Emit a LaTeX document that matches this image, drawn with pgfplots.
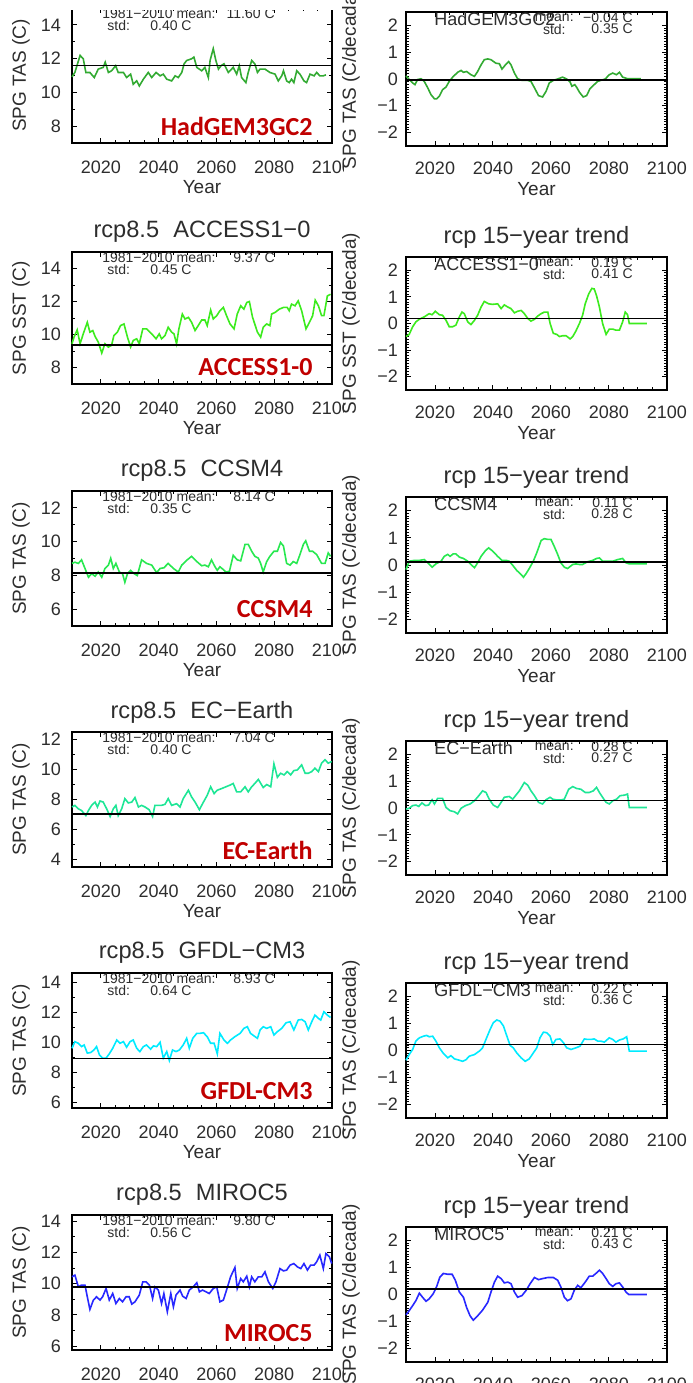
\documentclass[border=0pt]{standalone}
\usepackage{fontspec}
\setmainfont{Liberation Sans}
\newfontfamily\redfont{Carlito}
\usepackage{pgfplots}
\pgfplotsset{compat=1.18}

\definecolor{txt}{RGB}{45,45,45}
\definecolor{modelred}{RGB}{192,0,0}
\definecolor{hadcol}{RGB}{50,170,50}
\definecolor{acccol}{RGB}{60,235,30}
\definecolor{ccsmcol}{RGB}{40,232,80}
\definecolor{eccol}{RGB}{30,230,150}
\definecolor{gfdlcol}{RGB}{0,235,255}
\definecolor{mirocol}{RGB}{40,40,255}

\pgfplotsset{
  idl/.style={scale only axis, clip=false, xmin=2010, xmax=2100,
    xtick={2020,2040,...,2100}, minor x tick num=3,
    tick align=inside, major tick length=2.5pt, minor tick length=1.3pt,
    axis line style={line width=0.8pt}, tick style={line width=0.5pt, black},
    tick label style={font=\fontsize{9}{9}\selectfont, text=txt},
    /pgf/number format/1000 sep={}, /pgf/number format/assume math mode=true},
  leftpanel/.style={idl, width=130pt, height=67.5pt, ytick distance=2, minor y tick num=1,
    xticklabel style={yshift=-5.5pt}, yticklabel style={xshift=-2pt}},
  rightpanel/.style={idl, width=130.5pt, height=67pt, ymin=-2.5, ymax=2.5,
    ytick={-2,...,2}, yticklabels={−2,−1,0,1,2}, minor y tick num=9,
    xticklabel style={yshift=-4.5pt}, yticklabel style={xshift=-0.5pt}},
  series/.style={#1, line width=0.8pt},
}
\tikzset{lbl/.style={inner sep=0pt, text=txt},
  small/.style={lbl, font=\fontsize{7}{7}\selectfont}}

% title, ylabel, mean, std, model label
\newcommand{\leftdecor}[5]{%
  \addplot[black, line width=0.8pt] coordinates {(2010,#3) (2100,#3)};
  \node[lbl, font=\fontsize{11.8}{12}\selectfont] at ([yshift=10pt]rel axis cs:0.5,1) {#1};
  \node[lbl, rotate=90, font=\fontsize{9.5}{10}\selectfont] at ([xshift=-25.5pt]rel axis cs:0,0.5) {#2};
  \node[lbl, font=\fontsize{9.5}{10}\selectfont] at ([yshift=-22pt]rel axis cs:0.5,0) {Year};
  \node[small, anchor=west] at ([yshift=-3pt]rel axis cs:0.115,1) {1981−2010 mean:};
  \node[small, anchor=east] at ([yshift=-3pt]rel axis cs:0.781,1) {#3 C};
  \node[small, anchor=west] at ([yshift=-8.8pt]rel axis cs:0.135,1) {std:};
  \node[small, anchor=east] at ([yshift=-8.8pt]rel axis cs:0.4615,1) {#4 C};
  \node[inner sep=0pt, anchor=east, text=modelred, font=\redfont\bfseries\fontsize{13}{13}\selectfont]
    at ([yshift=8.5pt]rel axis cs:0.927,0) {#5};
}
% title, ylabel, model, mean (number), mean (as printed), std
\newcommand{\rightdecor}[6]{%
  \addplot[black, line width=0.8pt] coordinates {(2010,#4) (2100,#4)};
  \node[lbl, font=\fontsize{11.8}{12}\selectfont] at ([yshift=10pt]rel axis cs:0.5,1) {#1};
  \node[lbl, rotate=90, font=\fontsize{9.5}{10}\selectfont] at ([xshift=-27.5pt]rel axis cs:0,0.5) {#2};
  \node[lbl, font=\fontsize{9.5}{10}\selectfont] at ([yshift=-21.5pt]rel axis cs:0.5,0) {Year};
  \node[lbl, anchor=west, font=\fontsize{9}{9}\selectfont] at ([yshift=-3.5pt]rel axis cs:0.107,1) {#3};
  \node[small, anchor=east] at ([yshift=-3pt]rel axis cs:0.644,1) {mean:};
  \node[small, anchor=east] at ([yshift=-3pt]rel axis cs:0.870,1) {#5 C};
  \node[small, anchor=east] at ([yshift=-8.5pt]rel axis cs:0.613,1) {std:};
  \node[small, anchor=east] at ([yshift=-8.5pt]rel axis cs:0.870,1) {#6 C};
}

\begin{document}
\begin{tikzpicture}

%% ---------- left column: annual series ----------
\begin{axis}[leftpanel, at={(36pt,-71.5pt)}, anchor=south west, ymin=7, ymax=15]
\addplot[series=hadcol] coordinates {(2010.0,10.92)(2011.0,11.18)(2012.8,12.19)(2013.9,11.99)(2014.8,11.18)(2016.2,11.18)(2017.7,10.88)(2019.1,11.38)(2020.8,11.48)(2021.5,11.79)(2022.6,11.18)(2023.7,11.28)(2025.1,11.58)(2026.0,11.18)(2027.8,11.18)(2028.9,10.88)(2030.3,11.08)(2031.2,10.48)(2032.4,10.68)(2033.3,10.38)(2034.7,10.78)(2036.4,11.18)(2037.6,10.88)(2039.1,11.18)(2040.5,10.98)(2041.6,11.08)(2042.8,10.78)(2044.5,10.68)(2045.7,10.98)(2046.8,10.88)(2048.0,11.18)(2048.8,11.69)(2049.7,11.89)(2051.4,11.99)(2052.2,12.09)(2053.2,11.48)(2054.9,11.28)(2056.0,11.48)(2057.2,10.88)(2057.8,11.89)(2058.9,12.59)(2059.8,11.89)(2060.7,11.38)(2061.6,11.58)(2062.6,11.69)(2064.1,11.18)(2065.8,11.48)(2067.0,11.08)(2067.9,11.58)(2068.7,10.88)(2070.2,10.58)(2071.0,11.18)(2072.2,11.89)(2073.3,11.69)(2074.2,11.18)(2075.1,11.38)(2076.8,11.38)(2078.5,11.18)(2080.3,11.08)(2081.4,10.68)(2082.6,10.98)(2083.2,11.28)(2084.3,10.68)(2085.2,10.58)(2086.0,10.78)(2086.8,10.58)(2087.8,11.28)(2088.9,11.08)(2090.3,10.68)(2091.2,10.58)(2092.4,11.08)(2093.8,10.98)(2094.7,11.18)(2095.8,10.98)(2097.0,10.98)(2097.9,11.04)};
\leftdecor{}{SPG TAS (C)}{11.60}{0.40}{HadGEM3GC2}
\end{axis}

\begin{axis}[leftpanel, at={(36pt,-192pt)}, anchor=south west, height=66pt, ymin=7, ymax=15]
\addplot[series=acccol] coordinates {(2010.0,9.44)(2010.7,9.84)(2011.8,10.28)(2012.8,9.44)(2013.9,10.04)(2015.3,10.74)(2016.2,10.14)(2017.2,10.24)(2018.0,9.88)(2019.1,9.54)(2020.3,8.88)(2021.4,9.44)(2022.6,9.24)(2023.7,9.34)(2024.5,9.94)(2025.7,10.14)(2026.8,10.54)(2028.0,10.64)(2029.2,9.84)(2030.3,9.24)(2031.2,9.64)(2032.4,9.74)(2033.3,9.44)(2034.5,10.34)(2035.8,10.34)(2037.6,10.04)(2039.1,9.74)(2040.2,10.04)(2041.0,9.74)(2042.2,9.94)(2043.3,10.44)(2044.5,10.14)(2045.3,10.04)(2046.2,9.44)(2047.0,10.34)(2048.2,11.24)(2049.1,10.94)(2050.3,11.04)(2051.4,10.74)(2052.6,10.24)(2053.7,10.54)(2054.9,10.88)(2056.0,10.88)(2056.8,10.54)(2058.0,11.48)(2058.9,10.94)(2060.1,11.14)(2061.2,11.44)(2062.4,11.64)(2063.5,11.14)(2064.7,10.64)(2066.1,10.34)(2067.2,11.24)(2068.4,11.74)(2069.5,11.54)(2070.5,11.94)(2071.4,12.00)(2072.5,11.04)(2074.2,10.14)(2075.3,9.84)(2076.2,10.44)(2077.4,10.64)(2078.5,10.54)(2079.1,11.24)(2080.3,11.34)(2081.8,11.54)(2083.2,11.64)(2084.5,11.64)(2085.2,11.44)(2086.0,11.84)(2087.2,11.74)(2088.3,12.04)(2089.5,11.44)(2091.0,10.34)(2092.2,10.74)(2093.3,11.14)(2094.2,12.08)(2095.3,11.74)(2096.4,11.14)(2097.2,11.14)(2098.4,12.34)(2099.5,12.44)};
\leftdecor{rcp8.5\hspace{0.6em}ACCESS1−0}{SPG SST (C)}{9.37}{0.45}{ACCESS1-0}
\end{axis}

\begin{axis}[leftpanel, at={(36pt,-313pt)}, anchor=south west, ymin=5, ymax=13]
\addplot[series=ccsmcol] coordinates {(2010.0,8.71)(2011.0,8.78)(2012.2,8.71)(2013.3,8.92)(2014.5,8.41)(2015.7,7.89)(2016.8,8.10)(2018.0,7.95)(2019.1,8.20)(2020.3,7.89)(2021.4,8.41)(2022.6,8.61)(2023.4,9.02)(2024.3,8.41)(2025.2,8.71)(2026.4,8.20)(2027.5,8.10)(2028.3,7.59)(2029.2,8.10)(2030.3,8.30)(2031.5,8.10)(2032.6,7.99)(2034.1,8.92)(2035.8,8.71)(2037.6,8.61)(2039.3,8.16)(2040.5,8.41)(2041.8,8.45)(2043.3,8.71)(2045.1,8.41)(2046.8,8.20)(2048.0,8.61)(2049.9,8.92)(2051.4,9.13)(2053.2,8.82)(2054.9,8.57)(2056.0,8.61)(2057.2,8.51)(2058.3,8.92)(2059.5,8.51)(2060.3,8.30)(2061.2,8.51)(2062.2,8.37)(2063.3,8.20)(2064.5,8.24)(2065.8,9.19)(2067.2,8.92)(2068.4,8.86)(2069.9,9.84)(2071.0,9.84)(2072.2,9.43)(2073.3,9.13)(2074.5,9.02)(2075.3,8.71)(2076.2,8.20)(2077.4,8.82)(2078.5,9.13)(2079.9,9.43)(2081.1,9.43)(2082.2,9.95)(2083.2,9.74)(2084.3,8.71)(2085.5,8.61)(2086.6,8.82)(2087.8,8.71)(2088.9,9.23)(2090.1,9.84)(2090.9,10.05)(2092.2,9.43)(2093.3,9.43)(2094.7,9.23)(2096.4,8.71)(2097.6,8.71)(2098.7,9.33)(2099.5,9.13)};
\leftdecor{rcp8.5\hspace{0.6em}CCSM4}{SPG TAS (C)}{8.14}{0.35}{CCSM4}
\end{axis}

\begin{axis}[leftpanel, at={(36pt,-433.5pt)}, anchor=south west, ymin=3.5, ymax=12.5]
\addplot[series=eccol] coordinates {(2010.0,7.50)(2011.0,7.61)(2012.2,7.38)(2013.3,7.27)(2014.8,6.93)(2015.7,7.27)(2016.8,7.61)(2018.0,7.83)(2018.8,7.50)(2019.7,7.90)(2020.8,7.83)(2022.0,7.38)(2023.2,6.86)(2024.3,7.38)(2025.2,7.61)(2026.0,6.93)(2027.2,7.38)(2028.3,8.06)(2029.5,7.77)(2030.7,7.83)(2031.8,8.13)(2033.0,7.50)(2034.1,7.61)(2035.3,7.50)(2036.7,7.32)(2037.9,6.86)(2038.7,7.61)(2039.9,7.61)(2041.0,7.61)(2042.2,7.68)(2043.3,8.06)(2044.5,7.61)(2046.2,7.72)(2047.4,7.50)(2048.5,8.06)(2050.3,8.62)(2051.4,8.17)(2052.6,7.83)(2054.1,7.32)(2055.5,7.83)(2056.8,8.28)(2058.0,8.85)(2059.2,8.40)(2060.3,8.62)(2061.8,8.73)(2063.3,8.85)(2064.7,8.96)(2065.8,9.07)(2067.0,8.51)(2068.4,8.51)(2069.9,8.85)(2071.0,8.51)(2072.2,8.85)(2073.3,9.07)(2074.5,9.34)(2076.2,8.80)(2077.4,9.00)(2078.8,8.85)(2079.9,10.38)(2081.1,9.48)(2082.2,9.75)(2083.4,9.64)(2084.5,9.86)(2085.7,9.64)(2086.8,9.93)(2088.0,9.97)(2089.5,10.31)(2090.7,9.75)(2091.8,9.75)(2093.0,9.86)(2094.1,10.09)(2095.3,9.86)(2096.4,10.42)(2097.6,10.65)(2098.7,10.42)(2099.9,10.54)};
\leftdecor{rcp8.5\hspace{0.6em}EC−Earth}{SPG TAS (C)}{7.04}{0.40}{EC-Earth}
\end{axis}

\begin{axis}[leftpanel, at={(36pt,-554pt)}, anchor=south west, ymin=5.65, ymax=14.6]
\addplot[series=gfdlcol] coordinates {(2010.0,9.61)(2011.0,10.05)(2012.2,9.94)(2013.3,9.72)(2014.2,9.83)(2015.3,9.29)(2016.5,9.33)(2017.6,9.50)(2018.5,9.72)(2019.5,9.17)(2020.6,8.96)(2021.8,8.96)(2022.9,9.24)(2024.1,9.61)(2025.5,10.16)(2026.6,9.94)(2027.8,10.05)(2028.9,9.68)(2030.1,10.05)(2031.2,10.16)(2032.4,9.61)(2033.5,9.39)(2034.7,9.72)(2035.8,9.83)(2037.2,9.55)(2038.2,9.77)(2039.3,9.72)(2040.5,10.01)(2041.6,8.96)(2042.8,9.39)(2043.7,8.80)(2044.8,9.50)(2046.0,9.39)(2047.2,9.50)(2048.5,9.83)(2049.7,10.27)(2050.6,9.61)(2051.8,10.27)(2053.2,10.60)(2054.3,10.60)(2055.5,10.64)(2056.8,10.38)(2058.0,9.94)(2059.2,9.94)(2060.3,9.24)(2061.2,10.60)(2062.6,10.16)(2063.8,9.94)(2064.9,10.16)(2066.4,10.38)(2068.2,10.60)(2069.5,10.93)(2070.7,11.04)(2071.8,10.60)(2073.0,10.43)(2074.2,10.27)(2075.1,10.82)(2076.2,11.04)(2077.4,10.93)(2078.8,11.04)(2079.9,10.49)(2081.1,10.71)(2082.6,10.93)(2084.1,11.30)(2085.5,11.37)(2086.8,10.82)(2088.3,11.48)(2089.5,11.52)(2090.7,11.37)(2091.8,10.82)(2093.0,11.37)(2094.1,11.81)(2095.3,11.59)(2096.1,11.48)(2097.2,12.03)(2098.4,11.81)(2099.5,11.65)};
\leftdecor{rcp8.5\hspace{0.6em}GFDL−CM3}{SPG TAS (C)}{8.93}{0.64}{GFDL-CM3}
\end{axis}

\begin{axis}[leftpanel, at={(36pt,-675pt)}, anchor=south west, ymin=5.75, ymax=14.4]
\addplot[series=mirocol] coordinates {(2010.0,10.44)(2011.0,10.55)(2012.2,9.80)(2013.3,9.91)(2014.5,9.91)(2015.3,9.16)(2016.2,8.35)(2017.4,8.95)(2018.5,9.16)(2019.7,8.95)(2020.6,9.16)(2021.8,9.69)(2022.9,8.95)(2024.1,9.37)(2025.2,8.73)(2026.4,9.05)(2027.5,8.84)(2028.7,9.16)(2029.8,9.16)(2030.7,8.69)(2031.8,8.84)(2033.3,9.27)(2034.5,10.12)(2035.6,10.12)(2036.8,9.91)(2037.9,9.05)(2038.7,9.80)(2039.9,9.59)(2041.0,8.73)(2041.8,9.37)(2043.0,8.20)(2044.2,9.37)(2045.1,8.52)(2046.0,9.27)(2047.4,9.59)(2048.3,9.20)(2049.5,9.05)(2050.6,9.59)(2052.0,9.80)(2053.2,10.06)(2054.1,9.48)(2055.2,9.59)(2056.4,9.48)(2057.5,9.37)(2058.9,9.69)(2060.1,9.80)(2061.2,8.84)(2062.4,8.95)(2063.5,9.59)(2064.9,10.44)(2066.4,11.04)(2067.2,9.69)(2068.4,10.33)(2069.3,10.12)(2070.5,10.48)(2071.4,9.80)(2072.2,10.44)(2073.3,10.12)(2074.5,10.44)(2075.7,10.44)(2076.8,10.76)(2078.0,10.12)(2079.5,9.69)(2080.6,10.12)(2082.0,10.97)(2083.2,10.82)(2084.3,10.87)(2085.5,11.19)(2086.8,11.29)(2088.0,11.08)(2089.2,10.97)(2090.3,11.29)(2091.5,10.87)(2092.6,11.19)(2093.8,11.19)(2094.7,11.40)(2095.8,11.83)(2097.0,10.97)(2097.9,11.93)(2099.1,11.72)(2099.9,11.29)};
\leftdecor{rcp8.5\hspace{0.6em}MIROC5}{SPG TAS (C)}{9.80}{0.56}{MIROC5}
\end{axis}

% the right column images lie over the left ones; the top of the first row is cut
\fill[white] (-1pt,1pt) rectangle (172pt,-5pt);
\fill[white] (172pt,1pt) rectangle (350pt,-700pt);

%% ---------- right column: 15-year trends ----------
\begin{axis}[rightpanel, at={(203pt,-73pt)}, anchor=south west]
\addplot[series=hadcol] coordinates {(2010.0,0.12)(2011.1,-0.02)(2012.3,-0.15)(2013.1,-0.21)(2014.0,-0.02)(2015.2,0.01)(2016.3,-0.09)(2017.5,-0.33)(2018.6,-0.58)(2019.8,-0.74)(2020.6,-0.74)(2021.5,-0.64)(2022.6,-0.40)(2023.8,-0.30)(2024.9,-0.09)(2026.1,0.07)(2027.8,0.25)(2029.0,0.32)(2029.8,0.25)(2030.9,0.28)(2032.4,0.16)(2033.6,0.10)(2034.7,0.28)(2035.9,0.53)(2037.0,0.72)(2038.2,0.75)(2039.3,0.72)(2041.0,0.59)(2042.2,0.57)(2043.1,0.37)(2044.3,0.53)(2045.4,0.65)(2046.2,0.53)(2047.4,0.22)(2048.5,0.01)(2050.0,-0.05)(2052.0,-0.05)(2053.1,-0.09)(2054.3,-0.33)(2055.7,-0.62)(2057.1,-0.67)(2058.3,-0.46)(2059.4,-0.15)(2060.8,-0.05)(2062.3,0.00)(2064.0,0.07)(2065.4,0.00)(2066.6,-0.11)(2067.2,-0.27)(2068.2,-0.21)(2068.8,-0.30)(2069.8,-0.49)(2071.1,-0.67)(2072.3,-0.62)(2073.4,-0.37)(2074.9,-0.21)(2076.1,-0.09)(2077.2,-0.05)(2078.7,0.00)(2080.1,0.16)(2081.3,0.22)(2082.6,0.16)(2083.6,0.25)(2084.7,0.07)(2086.4,0.01)(2091.0,0.01)};
\rightdecor{}{SPG TAS (C/decada)}{HadGEM3GC2}{-0.04}{−0.04}{0.35}
\end{axis}

\begin{axis}[rightpanel, at={(203pt,-195pt)}, anchor=south west, height=66.5pt]
\addplot[series=acccol] coordinates {(2010.0,-0.49)(2011.1,-0.41)(2012.3,-0.12)(2013.4,0.06)(2014.6,0.16)(2016.3,0.25)(2018.0,0.37)(2019.0,0.33)(2020.1,0.46)(2021.5,0.33)(2022.6,0.31)(2023.8,0.12)(2024.9,-0.12)(2026.1,-0.12)(2027.2,-0.06)(2028.4,0.25)(2029.3,0.43)(2030.1,0.37)(2031.3,0.06)(2032.4,-0.04)(2033.6,0.12)(2034.7,0.31)(2035.9,0.62)(2037.0,0.83)(2038.5,0.74)(2039.9,0.72)(2041.6,0.74)(2042.8,0.56)(2043.9,0.70)(2045.1,0.62)(2046.2,0.56)(2047.4,0.40)(2048.5,0.46)(2049.7,0.49)(2050.8,0.37)(2052.0,0.19)(2053.1,0.09)(2054.3,0.16)(2055.4,0.28)(2056.6,0.37)(2057.7,0.43)(2058.9,0.43)(2059.7,0.00)(2060.8,-0.37)(2062.0,-0.41)(2062.9,-0.49)(2064.0,-0.46)(2065.2,-0.46)(2066.6,-0.58)(2067.5,-0.49)(2068.6,-0.28)(2069.8,0.00)(2070.9,0.31)(2071.8,0.74)(2073.0,1.11)(2074.1,1.32)(2074.9,1.30)(2075.7,1.05)(2076.7,0.62)(2077.8,0.00)(2079.0,-0.41)(2080.1,-0.21)(2081.3,-0.21)(2082.4,-0.25)(2083.6,-0.25)(2084.7,0.06)(2085.6,0.43)(2086.4,0.33)(2087.0,0.00)(2093.1,0.00)};
\rightdecor{rcp 15−year trend}{SPG SST (C/decada)}{ACCESS1−0}{0.19}{0.19}{0.41}
\end{axis}

\begin{axis}[rightpanel, at={(203pt,-316.5pt)}, anchor=south west, height=68pt]
\addplot[series=ccsmcol] coordinates {(2010.0,-0.17)(2011.1,0.14)(2012.9,0.17)(2014.6,0.17)(2016.3,0.20)(2017.5,0.08)(2019.0,-0.08)(2020.3,0.04)(2022.1,0.14)(2023.2,0.32)(2024.4,0.39)(2025.2,0.32)(2026.3,0.41)(2027.2,0.41)(2028.4,0.29)(2029.8,0.24)(2031.3,0.14)(2032.4,0.02)(2033.6,-0.10)(2034.7,0.08)(2035.9,0.32)(2037.4,0.53)(2038.5,0.63)(2039.9,0.51)(2041.6,0.32)(2043.1,0.17)(2044.5,0.17)(2045.6,0.14)(2046.8,-0.01)(2048.2,-0.20)(2049.7,-0.35)(2050.5,-0.45)(2051.4,-0.32)(2052.5,-0.13)(2053.9,0.14)(2055.1,0.45)(2056.6,0.90)(2057.7,0.97)(2058.9,0.94)(2060.0,0.94)(2061.1,0.69)(2062.3,0.39)(2063.4,0.08)(2064.6,-0.08)(2065.7,-0.13)(2067.5,0.02)(2068.6,0.04)(2069.8,0.02)(2070.9,0.02)(2072.6,0.12)(2074.4,0.17)(2075.7,0.24)(2076.7,0.26)(2077.8,0.14)(2079.5,0.14)(2081.3,0.14)(2083.0,0.20)(2084.7,0.24)(2085.9,0.08)(2087.0,0.04)(2093.1,0.04)};
\rightdecor{rcp 15−year trend}{SPG TAS (C/decada)}{CCSM4}{0.11}{0.11}{0.28}
\end{axis}

\begin{axis}[rightpanel, at={(203pt,-437.5pt)}, anchor=south west]
\addplot[series=eccol] coordinates {(2010.0,-0.04)(2011.1,-0.01)(2012.3,0.09)(2013.4,0.11)(2014.4,0.06)(2015.5,0.19)(2016.7,0.09)(2017.8,0.11)(2019.0,0.31)(2019.8,0.15)(2020.9,0.36)(2022.6,0.36)(2023.8,0.02)(2025.2,-0.10)(2026.7,-0.14)(2027.8,-0.22)(2029.0,-0.01)(2030.5,0.09)(2032.1,0.15)(2033.6,0.27)(2035.1,0.46)(2036.4,0.64)(2037.6,0.58)(2038.7,0.33)(2040.1,0.11)(2041.6,0.02)(2042.8,0.21)(2043.9,0.40)(2045.6,0.43)(2046.8,0.33)(2047.9,0.48)(2049.1,0.64)(2050.8,0.95)(2052.0,0.85)(2053.1,0.64)(2054.3,0.46)(2055.7,0.21)(2057.1,0.15)(2058.3,0.31)(2059.7,0.40)(2060.6,0.33)(2062.0,0.30)(2063.4,0.30)(2064.6,0.33)(2066.1,0.70)(2067.5,0.80)(2068.8,0.73)(2070.3,0.70)(2071.8,0.58)(2073.2,0.58)(2074.6,0.64)(2075.7,0.77)(2076.7,0.58)(2077.8,0.40)(2079.0,0.21)(2080.1,0.15)(2081.3,0.27)(2082.6,0.33)(2083.8,0.46)(2085.3,0.48)(2086.4,0.52)(2087.0,0.02)(2093.1,0.02)};
\rightdecor{rcp 15−year trend}{SPG TAS (C/decada)}{EC−Earth}{0.28}{0.28}{0.27}
\end{axis}

\begin{axis}[rightpanel, at={(203pt,-559pt)}, anchor=south west, height=67.5pt]
\addplot[series=gfdlcol] coordinates {(2010.0,-0.36)(2011.1,-0.15)(2012.3,0.04)(2013.4,0.35)(2014.6,0.47)(2016.0,0.53)(2017.1,0.56)(2018.0,0.51)(2019.2,0.53)(2020.3,0.35)(2021.5,0.10)(2022.9,-0.11)(2024.4,-0.27)(2025.5,-0.19)(2026.7,-0.31)(2028.4,-0.36)(2029.5,-0.40)(2030.7,-0.34)(2031.8,-0.21)(2033.6,-0.15)(2035.3,-0.02)(2036.4,0.10)(2037.8,0.47)(2039.0,0.78)(2040.1,1.03)(2041.3,1.13)(2042.4,1.09)(2043.6,0.91)(2044.7,0.56)(2045.9,0.19)(2047.0,0.10)(2048.2,-0.09)(2049.7,-0.27)(2051.1,-0.40)(2052.5,-0.31)(2053.9,-0.09)(2055.1,0.10)(2056.2,0.47)(2057.4,0.68)(2058.5,0.66)(2059.7,0.53)(2060.6,0.22)(2061.7,0.41)(2063.1,0.43)(2064.3,0.29)(2065.4,0.10)(2066.9,0.04)(2068.6,0.10)(2070.0,0.16)(2071.5,0.43)(2072.6,0.41)(2073.8,0.41)(2074.9,0.43)(2076.1,0.35)(2077.2,0.35)(2078.4,0.31)(2080.1,0.47)(2081.3,0.41)(2082.4,0.31)(2083.6,0.39)(2084.9,0.43)(2086.1,0.51)(2087.0,-0.02)(2093.1,-0.02)};
\rightdecor{rcp 15−year trend}{SPG TAS (C/decada)}{GFDL−CM3}{0.22}{0.22}{0.36}
\end{axis}

\begin{axis}[rightpanel, at={(203pt,-681pt)}, anchor=south west, height=67.5pt]
\addplot[series=mirocol] coordinates {(2010.0,-0.75)(2011.1,-0.60)(2012.3,-0.41)(2013.4,-0.23)(2014.6,0.05)(2015.7,-0.10)(2016.9,-0.25)(2018.0,-0.16)(2019.4,0.03)(2020.6,0.30)(2021.7,0.65)(2022.9,0.78)(2024.4,0.75)(2025.9,0.75)(2027.0,0.53)(2028.4,0.09)(2029.8,-0.10)(2030.9,-0.48)(2032.1,-0.79)(2033.2,-0.95)(2034.7,-0.79)(2036.4,-0.58)(2038.2,-0.29)(2039.3,0.09)(2040.5,0.46)(2041.6,0.68)(2042.8,0.59)(2043.9,0.43)(2045.1,0.46)(2046.2,0.40)(2047.4,0.09)(2048.5,-0.10)(2050.0,-0.04)(2051.4,0.15)(2052.8,0.40)(2054.3,0.63)(2055.7,0.55)(2057.1,0.59)(2058.9,0.63)(2060.8,0.63)(2062.3,0.53)(2063.4,0.28)(2064.6,-0.10)(2065.7,-0.23)(2066.9,-0.16)(2068.0,0.15)(2069.2,0.34)(2070.3,0.25)(2071.8,0.46)(2073.2,0.68)(2074.4,0.68)(2075.7,0.80)(2076.7,0.90)(2077.8,0.78)(2079.0,0.59)(2080.1,0.40)(2081.3,0.30)(2082.4,0.40)(2083.6,0.43)(2084.7,0.28)(2085.9,0.09)(2086.8,0.00)(2093.1,0.00)};
\rightdecor{rcp 15−year trend}{SPG TAS (C/decada)}{MIROC5}{0.21}{0.21}{0.43}
\end{axis}

\pgfresetboundingbox
\useasboundingbox (0,0) rectangle (346pt,-691.5pt);
\end{tikzpicture}
\end{document}
